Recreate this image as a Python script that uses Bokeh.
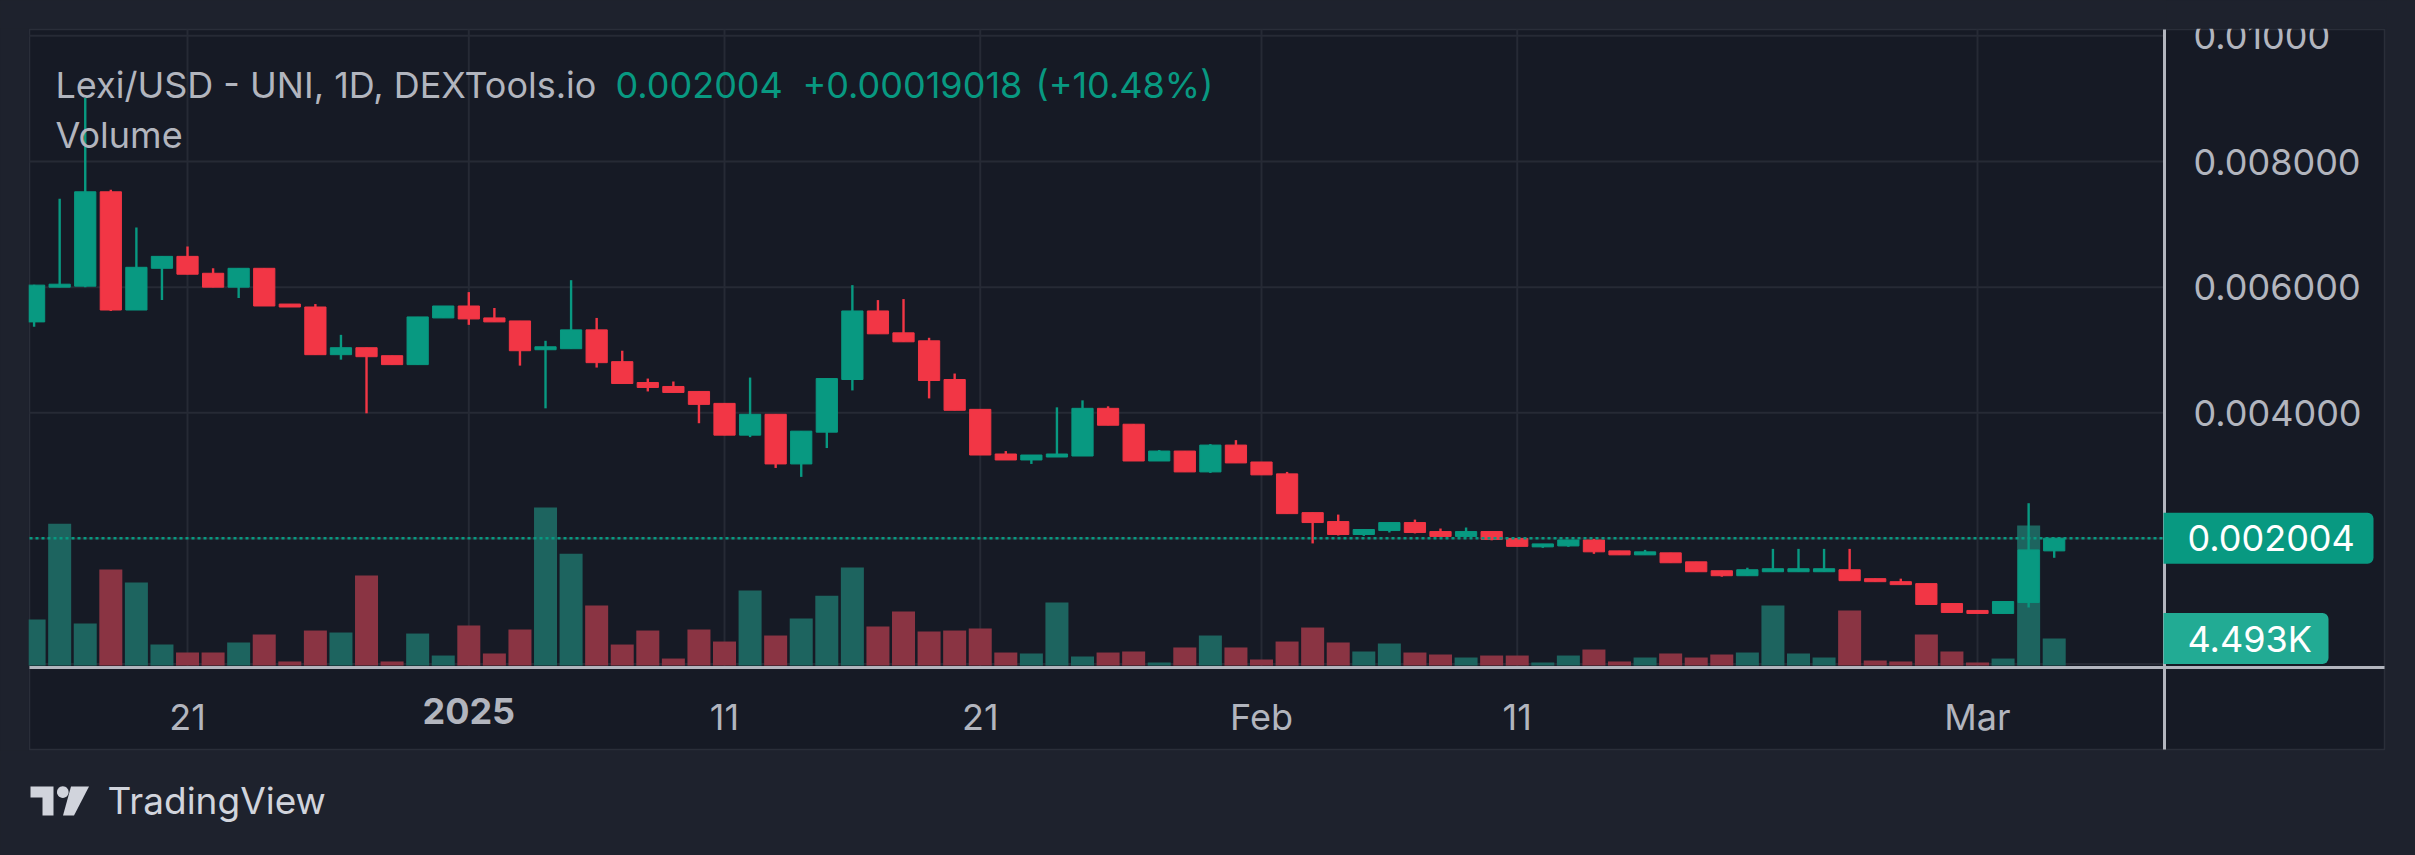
import json
import numpy as np
import pandas as pd
from bokeh.plotting import figure
from bokeh.models import (Range1d, FixedTicker, CustomJSTickFormatter, Label, BoxAnnotation,
                          PolyAnnotation, LinearAxis, DatetimeAxis)
from bokeh.embed import file_html
from bokeh.resources import INLINE

# ---------------- data ----------------
dates = pd.date_range("2024-12-15", periods=80, freq="D")

opens = [0.005447, 0.006000, 0.006016, 0.007518, 0.005636, 0.006300, 0.006490, 0.006221, 0.006000, 0.006300,
         0.005731, 0.005684, 0.004925, 0.005036, 0.004909, 0.004767, 0.005510,
         0.005700, 0.005510, 0.005462, 0.005004, 0.005020, 0.005320, 0.004814, 0.004482, 0.004419, 0.004340,
         0.004150, 0.003644, 0.003976, 0.003186, 0.003692, 0.004530, 0.005621, 0.005273, 0.005146, 0.004530,
         0.004055, 0.003344, 0.003249, 0.003296, 0.003312, 0.004071, 0.003818, 0.003233, 0.003391, 0.003059, 0.003486,
         0.003217, 0.003028, 0.002411, 0.002269, 0.002063, 0.002126, 0.002253, 0.002110, 0.002032, 0.002110,
         0.002000, 0.001866, 0.001881, 0.001976, 0.001802, 0.001739, 0.001771, 0.001628, 0.001486, 0.001407,
         0.001470, 0.001470, 0.001470, 0.001502, 0.001360, 0.001312, 0.001281, 0.000964,
         0.000854, 0.000806, 0.000980, 0.001802]
highs = [0.006040, 0.007407, 0.009010, 0.007550, 0.006949, 0.006490, 0.006648, 0.006300, 0.006300, 0.006300,
         0.005731, 0.005731, 0.005241, 0.005036, 0.004909, 0.005526, 0.005700,
         0.005921, 0.005668, 0.005462, 0.005146, 0.006111, 0.005510, 0.004988, 0.004545, 0.004498, 0.004340,
         0.004150, 0.004561, 0.003976, 0.003708, 0.004545, 0.006032, 0.005794, 0.005810, 0.005194, 0.004625,
         0.004055, 0.003391, 0.003328, 0.004087, 0.004198, 0.004103, 0.003818, 0.003407, 0.003391, 0.003502, 0.003565,
         0.003217, 0.003059, 0.002411, 0.002380, 0.002142, 0.002253, 0.002300, 0.002158, 0.002174, 0.002110,
         0.002000, 0.001913, 0.001976, 0.001992, 0.001802, 0.001818, 0.001771, 0.001628, 0.001486, 0.001534,
         0.001834, 0.001834, 0.001834, 0.001834, 0.001360, 0.001360, 0.001281, 0.000964,
         0.000854, 0.000996, 0.002561, 0.002010]
lows = [0.005368, 0.006000, 0.006000, 0.005620, 0.005636, 0.005794, 0.006206, 0.006000, 0.005826, 0.005700,
        0.005684, 0.004925, 0.004846, 0.003992, 0.004767, 0.004767, 0.005510,
        0.005400, 0.005447, 0.004751, 0.004071, 0.005020, 0.004720, 0.004466, 0.004340, 0.004324, 0.003834,
        0.003644, 0.003613, 0.003122, 0.002980, 0.003439, 0.004356, 0.005257, 0.005130, 0.004229, 0.004040,
        0.003328, 0.003249, 0.003186, 0.003296, 0.003312, 0.003802, 0.003233, 0.003233, 0.003059, 0.003043, 0.003202,
        0.003012, 0.002395, 0.001921, 0.002047, 0.002040, 0.002095, 0.002080, 0.002032, 0.002020, 0.001970,
        0.001874, 0.001850, 0.001866, 0.001755, 0.001739, 0.001739, 0.001613, 0.001470, 0.001391, 0.001407,
        0.001470, 0.001470, 0.001470, 0.001328, 0.001312, 0.001265, 0.000949, 0.000822,
        0.000806, 0.000806, 0.000901, 0.001692]
closes = [0.006032, 0.006047, 0.007518, 0.005636, 0.006316, 0.006490, 0.006206, 0.006000, 0.006300, 0.005700,
          0.005684, 0.004925, 0.005036, 0.004893, 0.004767, 0.005526, 0.005700,
          0.005494, 0.005447, 0.004988, 0.005051, 0.005320, 0.004798, 0.004466, 0.004403, 0.004324, 0.004134,
          0.003644, 0.003976, 0.003186, 0.003708, 0.004545, 0.005621, 0.005257, 0.005130, 0.004514, 0.004040,
          0.003328, 0.003249, 0.003328, 0.003344, 0.004071, 0.003802, 0.003233, 0.003391, 0.003059, 0.003486, 0.003202,
          0.003012, 0.002395, 0.002253, 0.002063, 0.002142, 0.002253, 0.002095, 0.002032, 0.002110, 0.001984,
          0.001874, 0.001913, 0.001976, 0.001787, 0.001739, 0.001787, 0.001613, 0.001470, 0.001407, 0.001502,
          0.001518, 0.001518, 0.001518, 0.001328, 0.001312, 0.001265, 0.000949, 0.000822,
          0.000806, 0.000996, 0.001818, 0.002004]
volumes = [7650, 23600, 6990, 15970, 13800, 3490, 2160, 2160, 3830, 5160,
           670, 5820, 5490, 14980, 670, 5320, 1660,
           6660, 2000, 5990, 26300, 18600, 9980, 3490, 5820, 1160, 5990,
           3990, 12500, 4990, 7820, 11600, 16300, 6490, 8990, 5660, 5820,
           6160, 2160, 2000, 10500, 1500, 2160, 2330, 500, 3000, 4990, 3000,
           1000, 3990, 6320, 3830, 2330, 3660, 2160, 1830, 1330, 1660,
           1660, 500, 1660, 2660, 670, 1330, 2000, 1330, 1830, 2160,
           9980, 2000, 1330, 9150, 830, 670, 5160, 2330,
           500, 1160, 23300, 4493]

tick_dates = ["2024-12-21", "2025-01-01", "2025-01-11", "2025-01-21", "2025-02-01", "2025-02-11", "2025-03-01"]
tick_labels = ["21", "", "11", "21", "Feb", "11", "Mar"]
year_date = "2025-01-01"
year_label = "2025"
price_ticks = [0.004, 0.006, 0.008, 0.010]
price_tick_labels = ["0.004000", "0.006000", "0.008000", "0.01000"]
grid_prices = [0.0, 0.002, 0.004, 0.006, 0.008, 0.010]
last_price = 0.002004
last_price_label = "0.002004"
change_label = "+0.00019018"
change_pct_label = "(+10.48%)"
volume_tag_label = "4.493K"
title_text = "Lexi/USD - UNI, 1D, DEXTools.io"
volume_title = "Volume"
brand_text = "TradingView"

# ---------------- style / layout ----------------
OUTER = "#1e222d"
PANE = "#161a25"
GRID = "#262a35"
BORDER = "#2a2e39"
TXT = "#b2b5be"
GREEN = "#089981"
RED = "#f23645"
VOL_G = "#1d645f"
VOL_R = "#8a3443"
TAG_VOL = "#22ab94"
LOGO = "#d1d4dc"
FONT = "Inter"

W, H = 2415, 855
PL, PR, PT, PB = 29, 2384, 29, 749      # pane box (page px)
CR, CB = 2164, 667                      # chart area right / bottom (page px)
DAY = 86400000.0
X0, DX = 33.6, 25.571          # page x of first candle, px per day
Y0, KY = 663.6, 62825.0        # page y of price 0, px per price unit
VY0, KV = 665.0, 6.009 / 1000  # page y of volume 0, px per volume unit
t0 = dates[0].value / 1e6


def xd(xp):
    return t0 + (xp - X0) / DX * DAY


def yd(yp):
    return (Y0 - yp) / KY


def vd(yp):
    return (VY0 - yp) / KV


p = figure(width=W, height=H, x_axis_type="datetime",
           x_range=Range1d(xd(0), xd(W)), y_range=Range1d(yd(H), yd(0)),
           x_axis_location=None, y_axis_location=None,
           output_backend="svg", toolbar_location=None, min_border=0,
           background_fill_color=OUTER, border_fill_color=OUTER, outline_line_color=None)
p.extra_y_ranges = {"vol": Range1d(vd(H), vd(0))}
p.xgrid.visible = False
p.ygrid.visible = False

# pane background with its border
p.add_layout(BoxAnnotation(left=xd(PL), right=xd(PR), top=yd(PT), bottom=yd(PB),
                           fill_color=PANE, fill_alpha=1, line_color=BORDER, line_alpha=1,
                           line_width=1.5, level="image"))

# grid lines (limited to the chart area)
xtick_ms = [pd.Timestamp(d).value / 1e6 for d in tick_dates]
p.segment(x0=xtick_ms, x1=xtick_ms, y0=[yd(PT)] * len(xtick_ms), y1=[yd(CB)] * len(xtick_ms),
          line_color=GRID, line_width=2, level="underlay")
p.segment(x0=[xd(PL)] * len(grid_prices), x1=[xd(CR)] * len(grid_prices), y0=grid_prices,
          y1=grid_prices, line_color=GRID, line_width=2, level="underlay")

# axes placed on the scale separators
xmap = {str(int(round(ms))): lab for ms, lab in zip(xtick_ms, tick_labels)}
xa = DatetimeAxis(fixed_location=yd(CB), bounds=(xd(PL), xd(PR)))
xa.ticker = FixedTicker(ticks=xtick_ms, minor_ticks=[])
xa.formatter = CustomJSTickFormatter(
    code="const m = %s; const k = String(Math.round(tick)); return (k in m) ? m[k] : '';" % json.dumps(xmap))
xa.major_label_text_font = FONT
xa.major_label_text_font_size = "36px"
xa.major_label_text_color = TXT
xa.axis_line_color = TXT
xa.axis_line_width = 3
xa.major_tick_line_color = None
xa.minor_tick_line_color = None
xa.major_label_standoff = 21
p.add_layout(xa, "below")

ya = LinearAxis(fixed_location=xd(CR), bounds=(yd(PB), yd(PT)))
ya.ticker = FixedTicker(ticks=price_ticks, minor_ticks=[])
ya.formatter = CustomJSTickFormatter(
    code="const t = %s; const l = %s; for (let i = 0; i < t.length; i++) { if (Math.abs(tick - t[i]) < 1e-9) return l[i]; } return '';"
    % (json.dumps(price_ticks), json.dumps(price_tick_labels)))
ya.major_label_text_font = FONT
ya.major_label_text_font_size = "36px"
ya.major_label_text_color = TXT
ya.major_label_text_align = "left"
ya.axis_line_color = TXT
ya.axis_line_width = 3
ya.major_tick_line_color = None
ya.minor_tick_line_color = None
ya.major_label_standoff = 23
p.add_layout(ya, "right")


def lab(x, y, text, color, size="36px", style="normal", level="glyph", align="left", **kw):
    l = Label(x=x, y=y, text=text, text_color=color, text_font=FONT, text_font_size=size,
              text_font_style=style, text_baseline="middle", text_align=align, level=level, **kw)
    p.add_layout(l)
    return l


# legend texts
lab(xd(55), yd(84), title_text, TXT)
lab(xd(615), yd(84), last_price_label, GREEN)
lab(xd(802), yd(84), change_label, GREEN)
lab(xd(1035), yd(84), change_pct_label, GREEN)
lab(xd(55), yd(134.5), volume_title, TXT)

# volume
up = [c >= o for o, c in zip(opens, closes)]
vcol = [VOL_G if u else VOL_R for u in up]
ccol = [GREEN if u else RED for u in up]
p.vbar(x=dates, width=0.9 * DAY, top=volumes, bottom=0, fill_color=vcol, line_color=None,
       y_range_name="vol")

# candles
p.segment(x0=dates, y0=lows, x1=dates, y1=highs, line_color=ccol, line_width=2.4)
p.vbar(x=dates, width=0.83 * DAY, top=[max(o, c) for o, c in zip(opens, closes)],
       bottom=[min(o, c) for o, c in zip(opens, closes)], fill_color=ccol, line_color=ccol,
       line_width=1)

# last price dotted line
p.segment(x0=[xd(PL)], x1=[xd(CR)], y0=[last_price], y1=[last_price], line_color=GREEN,
          line_width=2.5, line_dash="3 3")

# clip the chart at the pane's left edge
p.add_layout(BoxAnnotation(left=xd(0), right=xd(PL - 0.8), top=yd(PT - 1), bottom=yd(PB + 1),
                           fill_color=OUTER, fill_alpha=1, line_color=None, level="overlay"))
# clip the top price label at the pane's top edge
p.add_layout(BoxAnnotation(left=xd(CR + 2), right=xd(PR + 2), top=yd(0), bottom=yd(PT - 0.8),
                           fill_color=OUTER, fill_alpha=1, line_color=None, level="overlay"))

# bold year label on the time scale
lab(pd.Timestamp(year_date).value / 1e6, yd(710), year_label, TXT, style="bold",
    level="overlay", align="center")

# price tags
p.add_layout(BoxAnnotation(left=xd(2163), right=xd(2373), top=last_price + 25.5 / KY,
                           bottom=last_price - 25.5 / KY, fill_color=GREEN, fill_alpha=1,
                           line_color=None, border_radius=(0, 6, 6, 0), level="overlay"))
lab(xd(2187), last_price, last_price_label, "#ffffff", level="overlay")
p.add_layout(BoxAnnotation(left=xd(2163), right=xd(2328), top=volumes[-1] + 25.5 / KV,
                           bottom=volumes[-1] - 25.5 / KV, y_range_name="vol",
                           fill_color=TAG_VOL, fill_alpha=1, line_color=None,
                           border_radius=(0, 6, 6, 0), level="overlay"))
lab(xd(2187), volumes[-1], volume_tag_label, "#ffffff", level="overlay", y_range_name="vol")


# TradingView brand
def poly(pts):
    p.add_layout(PolyAnnotation(xs=[xd(a) for a, b in pts], ys=[yd(b) for a, b in pts],
                                fill_color=LOGO, fill_alpha=1, line_color=None, level="overlay"))


poly([(30, 786), (53, 786), (53, 815), (42, 815), (42, 797), (30, 797)])
ang = np.linspace(0, 2 * np.pi, 28, endpoint=False)
poly(list(zip(62.3 + 5.8 * np.cos(ang), 791.6 + 5.8 * np.sin(ang))))
poly([(70.5, 786), (88.5, 786), (73.5, 815), (62.5, 815)])
lab(xd(107), yd(800), brand_text, LOGO, size="37px", level="overlay")

html = file_html(p, INLINE)
html = html.replace("</head>", "<style>html,body{background:#1e222d;}</style></head>", 1)
open("out.html", "w").write(html)
